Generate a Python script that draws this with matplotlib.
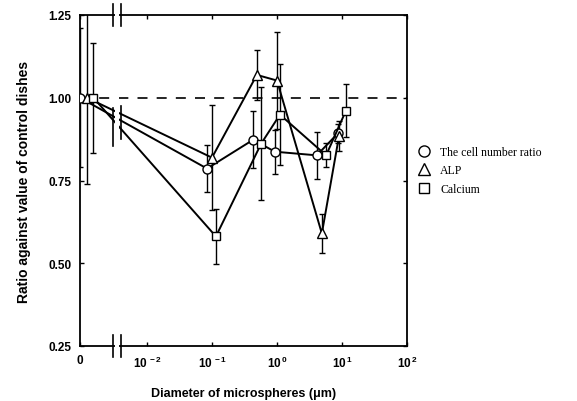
import numpy as np
import matplotlib.pyplot as plt
from matplotlib.lines import Line2D
from matplotlib.ticker import FixedLocator, NullLocator

plt.rcParams['font.family'] = 'Liberation Sans'
plt.rcParams['mathtext.fontset'] = 'custom'
plt.rcParams['mathtext.rm'] = 'Liberation Sans:bold'
plt.rcParams['mathtext.bf'] = 'Liberation Sans:bold'

# diameters (um), 0 = control; ratios and error bars
cell_x = [0, 0.084, 0.43, 0.93, 4.1, 8.6]
cell_y = [1.00, 0.786, 0.873, 0.837, 0.826, 0.892]
cell_err = [0.21, 0.072, 0.086, 0.066, 0.072, 0.03]

alp_x = [0.0012, 0.10, 0.49, 1.0, 4.9, 9.0]
alp_y = [1.00, 0.819, 1.069, 1.052, 0.59, 0.884]
alp_err = [0.26, 0.158, 0.075, 0.147, 0.058, 0.045]

ca_x = [0.0015, 0.115, 0.57, 1.11, 5.7, 11.5]
ca_y = [1.00, 0.581, 0.861, 0.949, 0.826, 0.961]
ca_err = [0.166, 0.083, 0.17, 0.152, 0.036, 0.08]

xticks = [0, 1e-2, 1e-1, 1, 10, 100]
xticklabels = ['0', r'10$^{\,-2}$', r'10$^{\,-1}$', r'10$^{\,0}$', r'10$^{\,1}$', r'10$^{\,2}$']
yticks = [0.25, 0.50, 0.75, 1.00, 1.25]

ZERO_POS = -3.03  # where "0" sits on the log axis (in decades)


def fwd(x):
    x = np.asarray(x, dtype=float)
    ok = x > 10 ** ZERO_POS
    return np.where(ok, np.log10(np.where(ok, x, 1.0)), ZERO_POS)


def inv(u):
    u = np.asarray(u, dtype=float)
    return np.where(u > ZERO_POS, 10.0 ** u, 0.0)


fig = plt.figure(figsize=(5.77, 4.02), dpi=100)
ax = fig.add_axes([80 / 577, 1 - 347 / 402, 327 / 577, 331 / 402])
ax.set_xscale('function', functions=(fwd, inv))
ax.set_xlim(0, 100)
ax.set_ylim(0.25, 1.25)

ax.axhline(1.0, color='black', lw=1.2, ls=(0, (6, 5.5)), zorder=1)

style = dict(color='black', lw=1.4, ms=6.5, mfc='white', mec='black', mew=1.0,
             ecolor='black', elinewidth=1.0, capsize=2.2, capthick=1.0, zorder=3)
ax.errorbar(cell_x, cell_y, yerr=cell_err, marker='o', **style)
ax.errorbar(alp_x, alp_y, yerr=alp_err, marker='^', **style)
ax.errorbar(ca_x, ca_y, yerr=ca_err, marker='s', **dict(style, ms=6))

# axis break between 0 and 10^-2
b1, b2 = 10 ** -2.52, 10 ** -2.40
ax.axvspan(b1 * 1.06, b2 * 0.94, ymin=-0.02, ymax=1.02, color='white', lw=0,
           zorder=5, clip_on=False)
tr = ax.get_xaxis_transform()
for b in (b1, b2):
    ax.plot([b, b], [-0.032, 0.032], color='black', lw=1.2, transform=tr, clip_on=False, zorder=6)
    ax.plot([b, b], [0.968, 1.032], color='black', lw=1.2, transform=tr, clip_on=False, zorder=6)
ax.plot([b1, b1], [0.855, 0.97], color='black', lw=1.2, zorder=6)
ax.plot([b2, b2], [0.875, 0.975], color='black', lw=1.2, zorder=6)

for s in ax.spines.values():
    s.set_linewidth(1.3)

ax.xaxis.set_major_locator(FixedLocator(xticks))
ax.xaxis.set_minor_locator(NullLocator())
ax.set_xticklabels(xticklabels)
ax.set_yticks(yticks)
ax.set_yticklabels(['%.2f' % v for v in yticks])
ax.tick_params(direction='in', length=3, width=1, top=True, right=True,
               labelsize=8.5, pad=6)
for lab in ax.get_xticklabels() + ax.get_yticklabels():
    lab.set_fontweight('bold')

ax.set_xlabel('Diameter of microspheres (\u03bcm)', fontsize=9, fontweight='bold')
ax.xaxis.set_label_coords(0.5, -0.125)
ax.set_ylabel('Ratio against value of control dishes', fontsize=10, fontweight='bold')
ax.yaxis.set_label_coords(-0.15, 0.5)

handles = [
    Line2D([], [], ls='none', marker='o', ms=8, mfc='white', mec='black', mew=1.0),
    Line2D([], [], ls='none', marker='^', ms=8, mfc='white', mec='black', mew=1.0),
    Line2D([], [], ls='none', marker='s', ms=7.5, mfc='white', mec='black', mew=1.0),
]
fig.legend(handles, ['The cell number ratio', 'ALP', 'Calcium'],
           loc='upper left', bbox_to_anchor=(412 / 577, 1 - 141 / 402),
           frameon=False, handlelength=1.0, handletextpad=0.9, labelspacing=0.55,
           borderpad=0, prop={'family': 'Liberation Serif', 'size': 8.5})

fig.savefig('out.png', dpi=100)
